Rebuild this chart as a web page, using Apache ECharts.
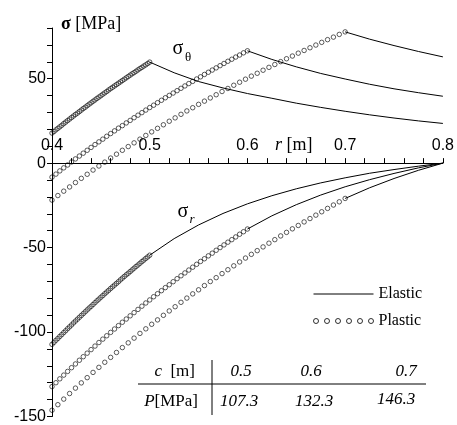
<!DOCTYPE html>
<html>
<head>
<meta charset="utf-8">
<script src="https://cdn.jsdelivr.net/npm/echarts@6/dist/echarts.min.js"></script>
<style>
  html, body { margin: 0; padding: 0; background: #fff; }
  #chart { width: 457px; height: 425px; }
</style>
</head>
<body>
<div id="chart"></div>
<script>
// table under the plot: plastic radius c and inner pressure P
const cRadius = ['0.5', '0.6', '0.7'];
const pressure = ['107.3', '132.3', '146.3'];

// plastic zone, 51 samples from r = 0.4 up to c
const plasticStep = [0.002, 0.004, 0.006];
const thetaPlastic05 = [17.8,18.7,19.7,20.6,21.5,22.4,23.4,24.3,25.2,26.1,27.0,27.9,28.8,29.6,30.5,31.4,32.3,33.1,34.0,34.9,35.7,36.6,37.4,38.3,39.1,39.9,40.8,41.6,42.4,43.3,44.1,44.9,45.7,46.5,47.3,48.1,48.9,49.7,50.5,51.3,52.1,52.9,53.6,54.4,55.2,56.0,56.7,57.5,58.2,59.0,59.8];
const radialPlastic05 = [-107.3,-106.1,-104.9,-103.8,-102.6,-101.5,-100.3,-99.2,-98.0,-96.9,-95.8,-94.6,-93.5,-92.4,-91.3,-90.2,-89.1,-88.0,-86.9,-85.8,-84.8,-83.7,-82.6,-81.5,-80.5,-79.4,-78.4,-77.3,-76.3,-75.3,-74.2,-73.2,-72.2,-71.2,-70.2,-69.1,-68.1,-67.1,-66.1,-65.2,-64.2,-63.2,-62.2,-61.2,-60.3,-59.3,-58.3,-57.4,-56.4,-55.5,-54.5];
const thetaPlastic06 = [-8.3,-6.5,-4.6,-2.8,-1.1,0.7,2.5,4.2,5.9,7.6,9.3,11.0,12.6,14.2,15.9,17.5,19.1,20.7,22.2,23.8,25.3,26.9,28.4,29.9,31.4,32.9,34.3,35.8,37.2,38.7,40.1,41.5,42.9,44.3,45.7,47.1,48.4,49.8,51.1,52.5,53.8,55.1,56.4,57.7,59.0,60.3,61.5,62.8,64.0,65.3,66.5];
const radialPlastic06 = [-132.3,-130.0,-127.7,-125.5,-123.3,-121.1,-118.9,-116.7,-114.6,-112.5,-110.4,-108.3,-106.2,-104.2,-102.2,-100.2,-98.2,-96.2,-94.2,-92.3,-90.4,-88.5,-86.6,-84.7,-82.8,-81.0,-79.1,-77.3,-75.5,-73.7,-72.0,-70.2,-68.4,-66.7,-65.0,-63.3,-61.6,-59.9,-58.2,-56.6,-54.9,-53.3,-51.6,-50.0,-48.4,-46.8,-45.3,-43.7,-42.1,-40.6,-39.0];
const thetaPlastic07 = [-21.9,-19.2,-16.6,-14.1,-11.5,-9.0,-6.6,-4.1,-1.7,0.6,3.0,5.3,7.6,9.8,12.0,14.2,16.4,18.5,20.6,22.7,24.8,26.8,28.9,30.9,32.8,34.8,36.7,38.6,40.5,42.4,44.2,46.1,47.9,49.7,51.5,53.2,55.0,56.7,58.4,60.1,61.8,63.4,65.1,66.7,68.3,69.9,71.5,73.1,74.6,76.2,77.7];
const radialPlastic07 = [-146.3,-143.0,-139.7,-136.4,-133.2,-130.1,-127.0,-123.9,-120.9,-117.9,-115.0,-112.1,-109.2,-106.4,-103.6,-100.8,-98.1,-95.4,-92.8,-90.1,-87.5,-85.0,-82.4,-79.9,-77.4,-75.0,-72.5,-70.1,-67.8,-65.4,-63.1,-60.8,-58.5,-56.2,-54.0,-51.8,-49.6,-47.4,-45.3,-43.1,-41.0,-38.9,-36.9,-34.8,-32.8,-30.8,-28.8,-26.8,-24.8,-22.9,-20.9];

// elastic zone, c .. 0.8
const rElastic05 = [0.5,0.525,0.55,0.575,0.6,0.625,0.65,0.675,0.7,0.725,0.75,0.775,0.8];
const thetaElastic05 = [59.8,53.5,48.3,44.5,41.2,38.4,35.5,33.0,30.7,28.6,26.7,25.0,23.5];
const radialElastic05 = [-54.5,-44.7,-36.6,-29.8,-24.1,-19.3,-15.2,-11.7,-8.7,-6.0,-3.8,-1.8,0];
const rElastic06 = [0.6,0.625,0.65,0.675,0.7,0.725,0.75,0.775,0.8];
const thetaElastic06 = [66.5,61.4,57.0,53.1,49.8,46.7,44.0,41.7,39.6];
const radialElastic06 = [-39.0,-31.2,-24.6,-18.9,-14.0,-9.8,-6.1,-2.8,0];
const rElastic07 = [0.7,0.725,0.75,0.775,0.8];
const thetaElastic07 = [77.7,73.4,69.6,66.1,62.9];
const radialElastic07 = [-20.9,-14.6,-9.1,-4.25,0];

const zip = (rs, vs) => rs.map((r, i) => [r, vs[i]]);
const plastic = (step, vs) => vs.map((v, i) => [+(0.4 + step * i).toFixed(4), v]);

const serif = 'Liberation Serif';
const sans = 'Liberation Sans';

// plot box and y range; the r axis is moved up to sit on sigma = 0
const gridTop = 28, gridBottom = 8.5, yMin = -150, yMax = 80;
const gridH = 425 - gridTop - gridBottom;
const zeroOffset = -gridH * (0 - yMin) / (yMax - yMin);

const elastic = (data) => ({
  type: 'line', name: 'Elastic', data: data,
  symbol: 'none', smooth: false,
  itemStyle: { color: '#000' },
  lineStyle: { color: '#000', width: 1 },
  silent: true
});
const circles = (data) => ({
  type: 'scatter', name: 'Plastic', data: data,
  symbol: 'circle', symbolSize: 4.5,
  itemStyle: { color: 'rgba(0,0,0,0)', borderColor: '#000', borderWidth: 0.8 },
  silent: true
});

// six little rings for the legend
const ring = (x) => 'M' + x + ',2.5a2.5,2.5 0 1 0 5,0a2.5,2.5 0 1 0 -5,0Z';
const ringsIcon = 'path://' + [0, 11, 22, 33, 44, 55].map(ring).join(' ');

const colX = [241, 311, 406];
const rowX = [239, 314, 396];
const tableGraphic = [
  { type: 'line', shape: { x1: 138, y1: 384, x2: 426, y2: 384 }, style: { stroke: '#000', lineWidth: 1 } },
  { type: 'line', shape: { x1: 212, y1: 360, x2: 212, y2: 415 }, style: { stroke: '#000', lineWidth: 1 } },
  { type: 'text', x: 195, y: 372, style: { text: '{i|c}  [m]', align: 'right', verticalAlign: 'middle',
      font: '17px ' + serif, fill: '#000', rich: { i: { fontStyle: 'italic', fontFamily: serif, fontSize: 17 } } } },
  { type: 'text', x: 198, y: 402, style: { text: '{i|P}[MPa]', align: 'right', verticalAlign: 'middle',
      font: '17px ' + serif, fill: '#000', rich: { i: { fontStyle: 'italic', fontFamily: serif, fontSize: 17 } } } }
];
cRadius.forEach((c, i) => tableGraphic.push({
  type: 'text', x: colX[i], y: 372,
  style: { text: c, align: 'center', verticalAlign: 'middle', font: 'italic 17px ' + serif, fill: '#000' }
}));
pressure.forEach((p, i) => tableGraphic.push({
  type: 'text', x: rowX[i], y: i === 2 ? 400 : 402,
  style: { text: p, align: 'center', verticalAlign: 'middle', font: 'italic 17px ' + serif, fill: '#000' }
}));

const chart = echarts.init(document.getElementById('chart'));
chart.setOption({
  animation: false,
  backgroundColor: '#fff',
  grid: { left: 52, right: 13, top: gridTop, bottom: gridBottom },
  legend: {
    orient: 'vertical', left: 313, top: 286, padding: 0,
    itemGap: 11, itemWidth: 60, itemHeight: 5,
    selectedMode: false,
    textStyle: { fontFamily: serif, fontSize: 16, color: '#000', lineHeight: 16 },
    data: [
      { name: 'Elastic', itemStyle: { opacity: 0 }, lineStyle: { color: '#000', width: 1 } },
      { name: 'Plastic', icon: ringsIcon,
        itemStyle: { color: 'rgba(0,0,0,0)', borderColor: '#000', borderWidth: 1 } }
    ]
  },
  xAxis: {
    type: 'value', min: 0.4, max: 0.8, interval: 0.02,
    position: 'bottom', offset: zeroOffset,
    axisLine: { onZero: false, lineStyle: { color: '#000', width: 1 } },
    axisTick: { inside: true, length: 5, lineStyle: { color: '#000' } },
    axisLabel: {
      inside: true, margin: 10, color: '#000', fontFamily: sans, fontSize: 16,
      formatter: (v) => Math.abs(v * 10 - Math.round(v * 10)) < 1e-6 ? v.toFixed(1) : ''
    },
    splitLine: { show: false }
  },
  yAxis: {
    type: 'value', min: yMin, max: yMax, interval: 10,
    name: '{b|σ} [MPa]', nameLocation: 'end', nameGap: 4,
    nameTextStyle: {
      align: 'left', verticalAlign: 'middle', padding: [0, 0, 0, 9],
      fontFamily: serif, fontSize: 18, color: '#000',
      rich: { b: { fontWeight: 'bold', fontFamily: serif, fontSize: 18, color: '#000' } }
    },
    axisLine: { show: true, onZero: false, lineStyle: { color: '#000', width: 1 } },
    axisTick: { show: true, length: 5, lineStyle: { color: '#000' } },
    axisLabel: {
      margin: 6, color: '#000', fontFamily: sans, fontSize: 16,
      formatter: (v) => v % 50 === 0 ? String(v) : ''
    },
    splitLine: { show: false }
  },
  graphic: [
    { type: 'text', x: 178, y: 49, style: { text: 'σ', align: 'center', verticalAlign: 'middle', font: '20px ' + serif, fill: '#000' } },
    { type: 'text', x: 188, y: 58, style: { text: 'θ', align: 'center', verticalAlign: 'middle', font: '13px ' + serif, fill: '#000' } },
    { type: 'text', x: 183, y: 212, style: { text: 'σ', align: 'center', verticalAlign: 'middle', font: '20px ' + serif, fill: '#000' } },
    { type: 'text', x: 192, y: 220, style: { text: 'r', align: 'center', verticalAlign: 'middle', font: 'italic 13px ' + serif, fill: '#000' } },
    { type: 'text', x: 275, y: 145, style: { text: '{i|r} [m]', align: 'left', verticalAlign: 'middle',
        font: '18px ' + serif, fill: '#000', rich: { i: { fontStyle: 'italic', fontFamily: serif, fontSize: 18 } } } }
  ].concat(tableGraphic),
  series: [
    elastic(zip(rElastic05, thetaElastic05)),
    elastic(zip(rElastic06, thetaElastic06)),
    elastic(zip(rElastic07, thetaElastic07)),
    elastic(zip(rElastic05, radialElastic05)),
    elastic(zip(rElastic06, radialElastic06)),
    elastic(zip(rElastic07, radialElastic07)),
    circles(plastic(plasticStep[0], thetaPlastic05)),
    circles(plastic(plasticStep[1], thetaPlastic06)),
    circles(plastic(plasticStep[2], thetaPlastic07)),
    circles(plastic(plasticStep[0], radialPlastic05)),
    circles(plastic(plasticStep[1], radialPlastic06)),
    circles(plastic(plasticStep[2], radialPlastic07))
  ]
});
</script>
</body>
</html>
